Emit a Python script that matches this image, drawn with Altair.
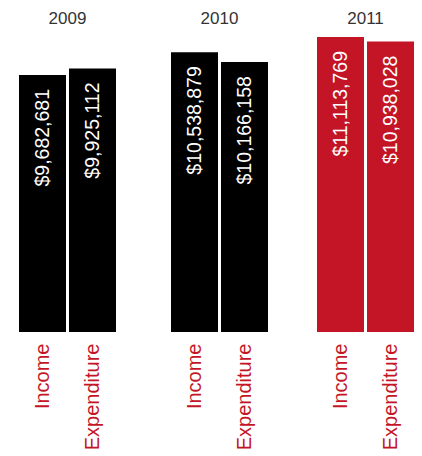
import altair as alt
import pandas as pd

years = ["2009", "2010", "2011"]
kinds = ["Income", "Expenditure"]
income = [9682681, 10538879, 11113769]
expenditure = [9925112, 10166158, 10938028]
highlight_year = "2011"

RED = "#C41526"
FONT = "Liberation Sans"

rows = []
for i, y in enumerate(years):
    rows.append({"year": y, "kind": "Income", "value": income[i]})
    rows.append({"year": y, "kind": "Expenditure", "value": expenditure[i]})
df = pd.DataFrame(rows)


def panel(year):
    base = alt.Chart(df).transform_filter(alt.datum.year == year)
    x = alt.X(
        "kind:N",
        sort=kinds,
        scale=alt.Scale(paddingInner=0.06, paddingOuter=0),
        axis=alt.Axis(
            title=None,
            labelAngle=270,
            labelAlign="right",
            labelBaseline="middle",
            labelColor=RED,
            labelFontSize=20,
            labelFont=FONT,
            labelPadding=11,
            ticks=False,
            domain=False,
        ),
    )
    y = alt.Y("value:Q", scale=alt.Scale(domain=[0, 11300000]), axis=None)
    color = RED if year == highlight_year else "#000000"
    bars = base.mark_bar(color=color).encode(x=x, y=y)
    text = base.mark_text(
        angle=270, align="right", baseline="middle", dx=-14,
        color="white", fontSize=19.5, font=FONT,
    ).encode(x=x, y=y, text=alt.Text("value:Q", format="$,.0f"))
    return (bars + text).properties(
        width=97,
        height=300,
        title=alt.TitleParams(
            year, fontSize=17, font=FONT, fontWeight="normal",
            color="#333333", offset=4,
        ),
    )


p09, p10, p11 = [panel(y) for y in years]
chart = (
    alt.hconcat(alt.hconcat(p09, p10, spacing=55), p11, spacing=49)
    .properties(padding={"left": 11, "top": 2, "right": 0, "bottom": 0})
    .configure_view(stroke=None)
)

chart.save("out.html", embed_options={"renderer": "svg", "actions": False})
